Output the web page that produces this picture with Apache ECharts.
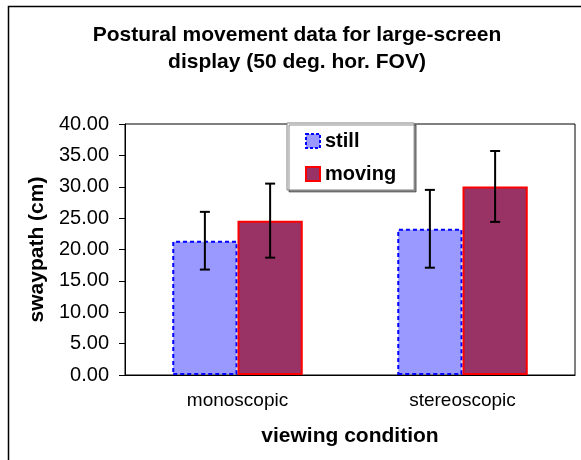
<!DOCTYPE html>
<html>
<head>
<meta charset="utf-8">
<script src="https://cdn.jsdelivr.net/npm/echarts@6/dist/echarts.min.js"></script>
<style>
  html, body { margin: 0; padding: 0; background: #fff; }
  #chart { width: 581px; height: 460px; }
</style>
</head>
<body>
<div id="chart"></div>
<script>
  // data
  var conditions = ["monoscopic", "stereoscopic"];
  var stillMean = [21.4, 23.3];
  var stillErr = [4.6, 6.2];
  var movingMean = [24.6, 30.05];
  var movingErr = [5.9, 5.65];
  var yTicks = [0, 5, 10, 15, 20, 25, 30, 35, 40];

  var FONT = "Liberation Sans, Arial, sans-serif";
  var CAT_GAP = 0.42;

  // error bars: [category, low, high]
  function errData(mean, err) {
    return mean.map(function (m, i) {
      return [i, m - err[i], m + err[i]];
    });
  }

  function errRender(side) {
    return function (params, api) {
      var band = api.size([1, 0])[0];
      var barW = (band * (1 - CAT_GAP)) / 2;
      var lo = api.coord([api.value(0), api.value(1)]);
      var hi = api.coord([api.value(0), api.value(2)]);
      var x = lo[0] + (side * barW) / 2;
      var cap = 5;
      var style = { stroke: "#000", lineWidth: 2 };
      return {
        type: "group",
        children: [
          { type: "line", shape: { x1: x, y1: hi[1], x2: x, y2: lo[1] }, style: style },
          { type: "line", shape: { x1: x - cap, y1: hi[1], x2: x + cap, y2: hi[1] }, style: style },
          { type: "line", shape: { x1: x - cap, y1: lo[1], x2: x + cap, y2: lo[1] }, style: style },
        ],
      };
    };
  }

  var myChart = echarts.init(document.getElementById("chart"), null, { renderer: "canvas" });

  var option = {
    backgroundColor: "#fff",
    animation: false,
    textStyle: { fontFamily: FONT },
    title: {
      text: "Postural movement data for large-screen\ndisplay (50 deg. hor. FOV)",
      left: 297,
      top: 22,
      textAlign: "center",
      padding: 0,
      textStyle: { fontFamily: FONT, fontSize: 21, fontWeight: "bold", color: "#000", lineHeight: 27 },
    },
    graphic: [
      {
        type: "rect",
        shape: { x: 8.5, y: 6.5, width: 620, height: 520 },
        style: { fill: null, stroke: "#000", lineWidth: 1.5 },
        z: 100,
      },
    ],
    legend: {
      data: [
        { name: "still", itemStyle: { borderType: [3, 2], borderWidth: 2, borderColor: "#0000ff" } },
        { name: "moving", itemStyle: { borderWidth: 2, borderColor: "#ff0000" } },
      ],
      orient: "vertical",
      left: 287,
      top: 123,
      icon: "rect",
      itemWidth: 14,
      itemHeight: 14,
      itemGap: 13,
      padding: [8, 18, 6, 18],
      backgroundColor: "#fff",
      borderColor: "#808080",
      borderWidth: 1,
      shadowColor: "rgba(0,0,0,0.45)",
      shadowOffsetX: 2,
      shadowOffsetY: 2,
      shadowBlur: 0,
      textStyle: { fontFamily: FONT, fontSize: 20, fontWeight: "bold", color: "#000" },
    },
    grid: {
      left: 125,
      right: 6,
      top: 124,
      bottom: 85,
      show: true,
      borderColor: "#000",
      borderWidth: 1,
      backgroundColor: "transparent",
    },
    xAxis: {
      type: "category",
      data: conditions,
      name: "viewing condition",
      nameLocation: "middle",
      nameGap: 51,
      nameTextStyle: { fontFamily: FONT, fontSize: 21, fontWeight: "bold", color: "#000" },
      axisLine: { lineStyle: { color: "#000", width: 1 } },
      axisTick: { length: 6, lineStyle: { color: "#000" } },
      axisLabel: { fontFamily: FONT, fontSize: 19, color: "#000", margin: 16 },
    },
    yAxis: {
      type: "value",
      min: yTicks[0],
      max: yTicks[yTicks.length - 1],
      interval: yTicks[1] - yTicks[0],
      name: "swaypath (cm)",
      nameLocation: "middle",
      nameGap: 77,
      nameTextStyle: { fontFamily: FONT, fontSize: 21, fontWeight: "bold", color: "#000" },
      axisLine: { show: true, lineStyle: { color: "#000", width: 1 } },
      axisTick: { show: true, length: 6, lineStyle: { color: "#000" } },
      splitLine: { show: false },
      axisLabel: {
        fontFamily: FONT,
        fontSize: 20,
        color: "#000",
        margin: 16,
        formatter: function (v) {
          return v.toFixed(2);
        },
      },
    },
    series: [
      {
        name: "still",
        type: "bar",
        data: stillMean,
        barGap: "0%",
        barCategoryGap: CAT_GAP * 100 + "%",
        itemStyle: {
          color: "#9999ff",
          borderColor: "#0000ff",
          borderWidth: 2,
          borderType: [4, 3],
        },
      },
      {
        name: "moving",
        type: "bar",
        data: movingMean,
        itemStyle: {
          color: "#993366",
          borderColor: "#ff0000",
          borderWidth: 2,
        },
      },
      {
        name: "still err",
        type: "custom",
        data: errData(stillMean, stillErr),
        renderItem: errRender(-1),
        encode: { x: 0, y: [1, 2] },
        z: 5,
      },
      {
        name: "moving err",
        type: "custom",
        data: errData(movingMean, movingErr),
        renderItem: errRender(1),
        encode: { x: 0, y: [1, 2] },
        z: 5,
      },
    ],
  };

  myChart.setOption(option);
</script>
</body>
</html>
